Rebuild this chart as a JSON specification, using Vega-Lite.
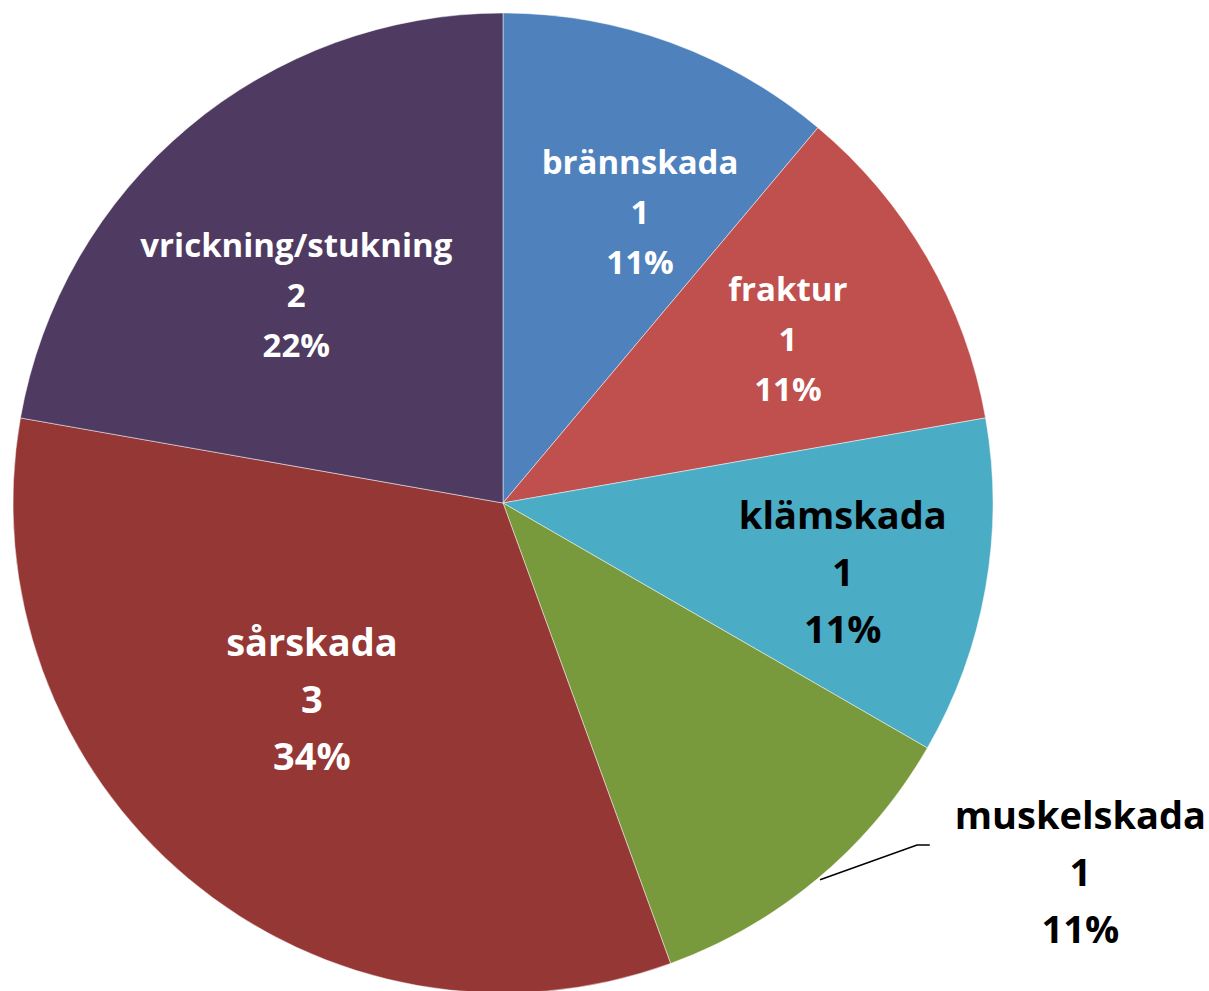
{
  "$schema": "https://vega.github.io/schema/vega-lite/v6.json",
  "width": 1006,
  "height": 1006,
  "autosize": {"type": "none"},
  "padding": {"left": 0, "top": 0, "right": 203, "bottom": 0},
  "background": "#ffffff",
  "config": {"view": {"stroke": null}},
  "data": {
    "values": [
      {"category": "brännskada", "count": 1, "pct": "11%", "label": "brännskada\n1\n11%"},
      {"category": "fraktur", "count": 1, "pct": "11%", "label": "fraktur\n1\n11%"},
      {"category": "klämskada", "count": 1, "pct": "11%", "label": "klämskada\n1\n11%"},
      {"category": "muskelskada", "count": 1, "pct": "11%", "label": "muskelskada\n1\n11%"},
      {"category": "sårskada", "count": 3, "pct": "34%", "label": "sårskada\n3\n34%"},
      {"category": "vrickning/stukning", "count": 2, "pct": "22%", "label": "vrickning/stukning\n2\n22%"}
    ]
  },
  "encoding": {
    "theta": {"field": "count", "type": "quantitative", "stack": true},
    "detail": {"field": "category", "type": "nominal"}
  },
  "layer": [
    {
      "mark": {"type": "arc", "outerRadius": 490, "stroke": "#ffffff", "strokeWidth": 0.8, "strokeOpacity": 0.6},
      "encoding": {
        "color": {
          "field": "category",
          "type": "nominal",
          "legend": null,
          "scale": {
            "domain": ["brännskada", "fraktur", "klämskada", "muskelskada", "sårskada", "vrickning/stukning"],
            "range": ["#4F81BD", "#C0504D", "#4BACC6", "#789A3C", "#953735", "#4F3B61"]
          }
        }
      }
    },
    {
      "mark": {"type": "text", "radius": 310, "dx": 31, "dy": -48, "font": "Open Sans", "fontWeight": "bold", "fontSize": 33, "lineHeight": 50, "lineBreak": "\n", "fill": "#ffffff", "align": "center", "baseline": "middle"},
      "encoding": {"text": {"condition": {"test": "datum.category === 'brännskada'", "field": "label", "type": "nominal"}, "value": ""}}
    },
    {
      "mark": {"type": "text", "radius": 329, "dx": 0, "dy": -48, "font": "Open Sans", "fontWeight": "bold", "fontSize": 33, "lineHeight": 50, "lineBreak": "\n", "fill": "#ffffff", "align": "center", "baseline": "middle"},
      "encoding": {"text": {"condition": {"test": "datum.category === 'fraktur'", "field": "label", "type": "nominal"}, "value": ""}}
    },
    {
      "mark": {"type": "text", "radius": 292, "dx": -19, "dy": -32, "font": "Open Sans", "fontWeight": "bold", "fontSize": 33, "lineHeight": 50, "lineBreak": "\n", "fill": "#ffffff", "align": "center", "baseline": "middle"},
      "encoding": {"text": {"condition": {"test": "datum.category === 'vrickning/stukning'", "field": "label", "type": "nominal"}, "value": ""}}
    },
    {
      "mark": {"type": "text", "radius": 274, "dx": -15, "dy": -68, "font": "Open Sans", "fontWeight": "bold", "fontSize": 38, "lineHeight": 57, "lineBreak": "\n", "fill": "#ffffff", "align": "center", "baseline": "middle"},
      "encoding": {"text": {"condition": {"test": "datum.category === 'sårskada'", "field": "label", "type": "nominal"}, "value": ""}}
    },
    {
      "mark": {"type": "text", "radius": 345, "dx": 0, "dy": -45, "font": "Open Sans", "fontWeight": "bold", "fontSize": 38, "lineHeight": 57, "lineBreak": "\n", "fill": "#000000", "align": "center", "baseline": "middle"},
      "encoding": {"text": {"condition": {"test": "datum.category === 'klämskada'", "field": "label", "type": "nominal"}, "value": ""}}
    },
    {
      "mark": {"type": "text", "radius": 654, "dx": 157, "dy": -186, "font": "Open Sans", "fontWeight": "bold", "fontSize": 38, "lineHeight": 57, "lineBreak": "\n", "fill": "#000000", "align": "center", "baseline": "middle"},
      "encoding": {"text": {"condition": {"test": "datum.category === 'muskelskada'", "field": "label", "type": "nominal"}, "value": ""}}
    },
    {
      "data": {
        "values": [
          {"lx": 0.647, "ly": -0.769, "o": 0},
          {"lx": 0.845, "ly": -0.698, "o": 1},
          {"lx": 0.871, "ly": -0.698, "o": 2}
        ]
      },
      "mark": {"type": "line", "color": "#000000", "strokeWidth": 1.5},
      "encoding": {
        "theta": null,
        "detail": null,
        "x": {"field": "lx", "type": "quantitative", "axis": null, "scale": {"domain": [-1.02653, 1.02653], "nice": false, "zero": false}},
        "y": {"field": "ly", "type": "quantitative", "axis": null, "scale": {"domain": [-1.02653, 1.02653], "nice": false, "zero": false}},
        "order": {"field": "o", "type": "quantitative"}
      }
    }
  ]
}
